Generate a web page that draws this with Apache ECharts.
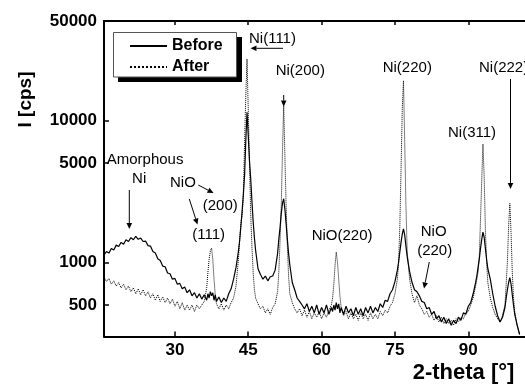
<!DOCTYPE html>
<html>
<head>
<meta charset="utf-8">
<script src="https://cdn.jsdelivr.net/npm/echarts@6/dist/echarts.min.js"></script>
<style>
html,body{margin:0;padding:0;background:#fff;}
#c{width:525px;height:388px;}
</style>
</head>
<body>
<div id="c"></div>
<script>
// 2-theta positions (degrees)
const twoTheta = [
15.5,16,16.5,17,17.5,18,18.5,19,19.5,20,20.5,21,21.5,22,22.5,23,23.5,24,24.5,25,25.5,26,26.5,27,27.5,28,28.5,29,29.5,30,30.5,31,31.5,32,32.5,33,33.5,34,34.5,35,35.5,36,36.5,
36.75,37,37.25,37.5,37.75,38,38.25,
38.5,39,39.5,40,40.5,41,41.5,42,42.5,
42.75,43,43.25,43.5,43.75,44,44.25,44.5,44.75,45,45.25,45.5,45.75,46,46.25,
46.5,47,47.5,48,48.5,49,49.5,50,50.5,51,
51.25,51.5,51.75,52,52.25,52.5,52.75,53,53.25,
53.5,54,54.5,55,55.5,56,56.5,57,57.5,58,58.5,59,59.5,60,60.5,61,61.5,62,
62.25,62.5,62.75,63,63.25,63.5,63.75,
64,64.5,65,65.5,66,66.5,67,67.5,68,68.5,69,69.5,70,70.5,71,71.5,72,72.5,73,73.5,74,74.5,75,75.5,
75.75,76,76.25,76.5,76.75,77,77.25,77.5,
78,78.5,79,79.5,80,80.5,81,81.5,82,82.5,83,83.5,84,84.5,85,85.5,86,86.5,87,87.5,88,88.5,89,89.5,90,90.5,91,91.5,
91.75,92,92.25,92.5,92.75,93,93.25,93.5,93.75,
94,94.5,95,95.5,96,96.5,97,97.5,
97.75,98,98.25,98.5,98.75,99,99.25,
99.5,100,100.5
];
// Intensity "Before" (cps)
const before = [
1120,1190,1160,1250,1220,1320,1290,1380,1340,1440,1400,1490,1440,1520,1450,1480,1400,1410,1310,1300,1190,1160,1060,1030,940,930,840,830,760,770,700,710,650,670,610,640,580,610,560,600,550,590,540,
600,560,620,580,610,540,590,
530,570,520,560,530,600,650,760,920,
1050,1200,1430,1800,2300,3000,4100,7200,11400,7800,5200,3900,2700,1950,1500,
1220,900,820,760,800,740,790,800,880,1150,
1450,1750,2200,2600,2800,2350,1850,1450,1150,
960,720,640,560,530,500,470,510,450,490,440,500,430,480,440,500,430,480,
450,500,460,520,470,510,440,
480,430,490,440,470,420,480,430,470,420,480,440,490,440,480,450,510,480,540,530,600,640,730,880,
1000,1180,1380,1580,1720,1550,1300,1100,
860,720,640,620,580,530,520,470,480,430,450,400,420,380,410,370,400,360,390,370,410,390,440,430,490,520,600,720,
800,920,1050,1250,1450,1630,1500,1250,1050,
900,760,600,490,420,380,410,480,
560,640,720,780,700,590,500,
430,360,310
];
// Intensity "After" (cps)
const after = [
790,730,770,700,740,680,720,660,700,640,680,620,660,600,650,590,640,580,620,560,600,540,590,530,570,520,560,510,550,490,530,470,520,460,500,460,500,450,500,470,500,530,660,
850,1050,1200,1260,1050,760,590,
510,470,510,460,500,470,520,560,680,
850,1050,1450,1900,2150,3000,7000,15000,27000,12000,5000,2200,1300,850,650,
560,510,470,490,440,470,430,480,510,620,
850,1400,2500,6000,13000,5500,2500,1300,800,
600,520,470,440,470,420,460,410,450,400,440,410,450,400,440,410,460,500,
560,700,950,1180,1000,760,580,
480,420,450,400,440,400,430,390,440,400,430,390,440,400,430,400,450,420,460,440,490,520,600,760,
1000,1800,4500,12000,19000,7000,2500,1200,
760,600,520,580,500,470,430,450,410,430,390,420,380,410,370,400,370,390,360,400,380,410,400,440,450,500,560,680,
700,850,1100,2000,3800,6800,4000,1700,1000,
720,560,480,430,400,380,420,500,
700,1000,1800,2600,1600,850,560,
450,360,310
];
const seriesNames = ['Before', 'After'];
const xTicks = [30, 45, 60, 75, 90];
const yTicks = [500, 1000, 5000, 10000, 50000];

const FONT = '"Liberation Sans", Arial, Helvetica, sans-serif';

function arrow(x1, y1, x2, y2) {
  const dx = x2 - x1, dy = y2 - y1, L = Math.hypot(dx, dy);
  const ux = dx / L, uy = dy / L, hl = 6, hw = 2.8;
  const bx = x2 - ux * hl, by = y2 - uy * hl;
  return [
    {type: 'line', z: 100, shape: {x1: x1, y1: y1, x2: bx, y2: by}, style: {stroke: '#000', lineWidth: 1}},
    {type: 'polygon', z: 100, shape: {points: [[x2, y2], [bx - uy * hw, by + ux * hw], [bx + uy * hw, by - ux * hw]]}, style: {fill: '#000'}}
  ];
}
function label(text, x, y, align) {
  return {type: 'text', z: 100, x: x, y: y,
    style: {text: text, fill: '#000', font: '15px ' + FONT,
      align: align || 'left', verticalAlign: 'middle',
      textAlign: align || 'left', textVerticalAlign: 'middle'}};
}

const graphics = [].concat(
  [
    {type: 'rect', z: 3, shape: {x: 118, y: 37, width: 124, height: 45}, style: {fill: '#000'}},
    {type: 'rect', z: 3, shape: {x: 113.5, y: 32.5, width: 123, height: 44.5}, style: {fill: '#fff', stroke: '#555', lineWidth: 1}}
  ],
  [label('Ni(111)', 249, 38.5)], arrow(283, 48.3, 250.5, 48.3),
  [label('Ni(200)', 275.7, 70.5)], arrow(283.7, 95, 283.7, 106.5),
  [label('Ni(220)', 382.7, 67.5)],
  [label('Ni(222)', 479, 67.5)], arrow(510.5, 79, 510.5, 189),
  [label('Ni(311)', 448, 132.7)],
  [label('NiO(220)', 311.7, 236)],
  [label('NiO', 433.7, 231.7, 'center'), label('(220)', 434.7, 250.7, 'center')], arrow(429.3, 262, 424, 288.5),
  [label('Amorphous', 106.7, 160), label('Ni', 139.2, 179.3, 'center')], arrow(129.3, 190, 129.3, 229),
  [label('NiO', 170, 183.3), label('(200)', 202.7, 206), label('(111)', 192.3, 235)],
  arrow(198.3, 185, 213.5, 193), arrow(189.3, 199, 197.5, 224.5),
  [
    {type: 'text', z: 100, x: 25.5, y: 99.5, rotation: Math.PI / 2,
      style: {text: 'I [cps]', fill: '#000', font: 'bold 19px ' + FONT,
        align: 'center', verticalAlign: 'middle', textAlign: 'center', textVerticalAlign: 'middle'}},
    {type: 'text', z: 100, x: 463.5, y: 373,
      style: {text: '2-theta [°]', fill: '#000', font: 'bold 22px ' + FONT,
        align: 'center', verticalAlign: 'middle', textAlign: 'center', textVerticalAlign: 'middle'}}
  ]
);

const chart = echarts.init(document.getElementById('c'), null, {renderer: 'canvas'});
chart.setOption({
  animation: false,
  backgroundColor: '#fff',
  grid: {left: 104, top: 21, width: 422, height: 315.5, containLabel: false},
  legend: {
    left: 113, top: 32, orient: 'vertical', z: 10,
    data: seriesNames,
    padding: [6, 10, 2, 16],
    itemWidth: 37, itemHeight: 14, itemGap: 5,
    backgroundColor: 'transparent', borderWidth: 0,
    itemStyle: {opacity: 0, color: 'rgba(0,0,0,0)', borderColor: 'rgba(0,0,0,0)', borderWidth: 0},
    textStyle: {fontSize: 16, fontWeight: 'bold', color: '#000', fontFamily: FONT, lineHeight: 16}
  },
  xAxis: [{
    type: 'value', min: 15.5, max: 101.6,
    axisLine: {show: true, onZero: false, lineStyle: {color: '#000', width: 2}},
    axisTick: {show: true, inside: true, length: 5, customValues: xTicks, lineStyle: {color: '#000', width: 1.5}},
    axisLabel: {show: true, customValues: xTicks, margin: 5, color: '#000', fontSize: 17, fontWeight: 'bold', fontFamily: FONT},
    splitLine: {show: false}
  }, {
    type: 'value', position: 'top', min: 15.5, max: 101.6,
    axisLine: {show: true, onZero: false, lineStyle: {color: '#000', width: 2}},
    axisTick: {show: true, inside: true, length: 4, customValues: xTicks, lineStyle: {color: '#000', width: 1.5}},
    axisLabel: {show: false},
    splitLine: {show: false}
  }],
  yAxis: {
    type: 'log', logBase: 10, min: 300, max: 50000,
    axisLine: {show: true, onZero: false, lineStyle: {color: '#000', width: 2}},
    axisTick: {show: true, inside: true, length: 5, customValues: yTicks, lineStyle: {color: '#000', width: 1.5}},
    axisLabel: {show: true, customValues: yTicks, margin: 7, color: '#000', fontSize: 17, fontWeight: 'bold', fontFamily: FONT,
      formatter: function (v) { return String(Math.round(v)); }},
    minorTick: {show: false},
    splitLine: {show: false}
  },
  series: [{
    name: seriesNames[0], type: 'line', symbol: 'none', showSymbol: false, clip: true,
    data: twoTheta.map(function (x, i) { return [x, before[i]]; }),
    lineStyle: {color: '#000', width: 1.2, type: 'solid'},
    itemStyle: {color: '#000'}
  }, {
    name: seriesNames[1], type: 'line', symbol: 'none', showSymbol: false, clip: true,
    data: twoTheta.map(function (x, i) { return [x, after[i]]; }),
    lineStyle: {color: '#000', width: 1, type: 'dotted'},
    itemStyle: {color: '#000'}
  }],
  graphic: graphics
});
</script>
</body>
</html>
